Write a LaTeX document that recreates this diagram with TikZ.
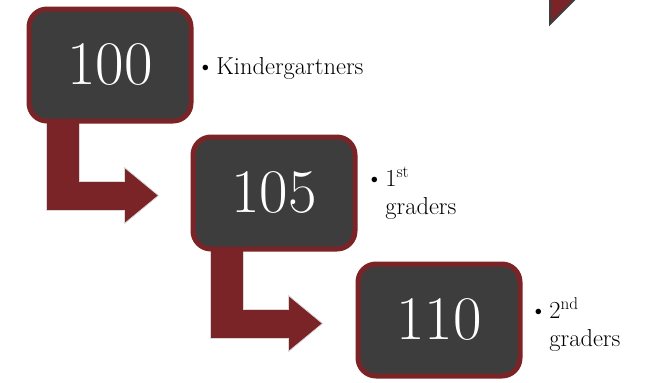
\documentclass[tikz,border=0pt]{standalone}
\usetikzlibrary{positioning,calc,backgrounds}
\definecolor{boxgrey}{RGB}{61,61,61}
\definecolor{boxred}{RGB}{122,36,40}

\begin{document}
\begin{tikzpicture}[x=1pt,y=-1pt,
  numbox/.style={draw=boxred, fill=boxgrey, line width=5pt, rounded corners=18pt,
    minimum width=162pt, minimum height=112pt, text=white, font=\fontsize{62}{64}\selectfont},
  bentarrow/.style={fill=boxred, draw=black!15, line width=0.8pt},
  lbl/.style={inner sep=0pt, align=left, font=\fontsize{24.5}{28}\selectfont}]
\useasboundingbox (0,0) rectangle (654,383);
\fill [boxred, draw=boxgrey, line width=2pt] (550,-3) -- (550,24) -- (577,-3) -- cycle;
\node [numbox] (b1) at (110,65) {100};
\node [numbox] (b2) at (274,193) {105};
\node [numbox] (b3) at (439,320) {110};
\begin{scope}[on background layer]
\foreach \b in {b1,b2}
  \draw [bentarrow, shift={(\b.south west)}] (20,-8) -- (53,-8) -- (53,58) -- (98,58) -- (98,44)
    -- (132,72) -- (98,100) -- (98,87) -- (20,87) -- cycle;
\end{scope}
\node [lbl, anchor=base west] (l1) at ($(b1.east)+(3,9)$) {\textbullet\kern2pt Kindergartners};
\node [lbl, right=8pt of b2] (l2) {\textbullet\kern2pt 1\textsuperscript{st}\\\hphantom{\textbullet\kern2pt}graders};
\node [lbl, right=7pt of b3, yshift=-5pt] (l3) {\textbullet\kern2pt 2\textsuperscript{nd}\\\hphantom{\textbullet\kern2pt}graders};
\end{tikzpicture}
\end{document}
